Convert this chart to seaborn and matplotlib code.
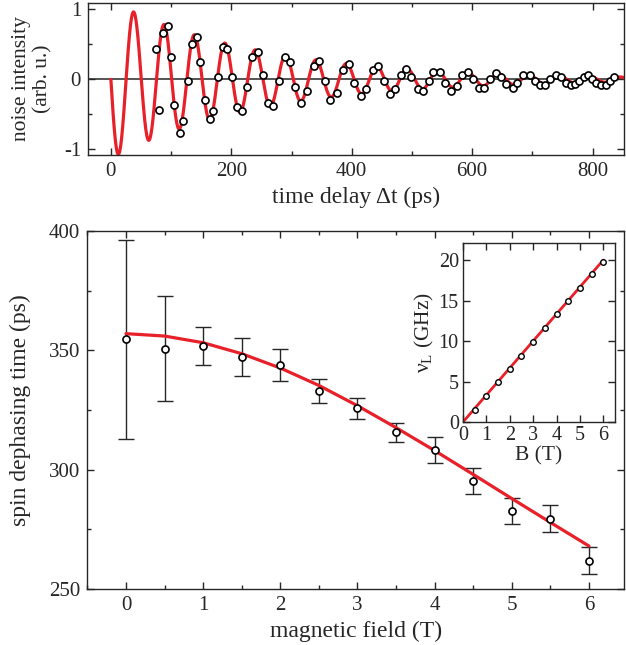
import numpy as np
import pandas as pd
import matplotlib
matplotlib.use("Agg")
import matplotlib.pyplot as plt
from matplotlib.ticker import MultipleLocator
import seaborn as sns

# --- DATA ---
# top panel: measured noise correlation
delay_ps = [74.9, 80.4, 86.0, 94.8, 100.4, 105.4, 114.3, 119.8, 128.7, 134.3,
            142.6, 148.1, 156.4, 164.7, 170.2, 178.5, 186.9, 193.5, 201.8, 210.2,
            218.0, 226.3, 235.1, 244.1, 252.4, 260.1, 269.0, 280.0, 288.4, 297.8,
            306.2, 316.1, 325.6, 336.6, 345.0, 356.1, 364.4, 375.5, 384.9, 394.9,
            404.3, 415.4, 423.8, 434.8, 443.1, 454.2, 463.1, 471.4, 482.5, 490.8,
            499.2, 510.3, 518.6, 528.0, 535.3, 546.3, 555.7, 564.1, 575.2, 582.5,
            592.9, 601.2, 611.2, 619.5, 629.0, 640.1, 648.4, 656.7, 667.8, 675.1,
            684.4, 695.5, 703.8, 712.1, 720.5, 729.3, 738.8, 747.1, 755.4, 764.9,
            770.4, 777.6, 785.9, 792.5, 799.8, 806.5, 814.8, 822.0, 828.6, 835.8]
noise = [0.44, -0.43, 0.66, 0.76, 0.32, -0.36, -0.77, -0.60, -0.02, 0.51,
         0.61, 0.25, -0.29, -0.57, -0.45, 0.03, 0.47, 0.44, 0.03, -0.40,
         -0.45, -0.11, 0.32, 0.39, 0.06, -0.33, -0.38, -0.02, 0.32, 0.25,
         -0.11, -0.33, -0.17, 0.19, 0.27, -0.02, -0.29, -0.19, 0.13, 0.22,
         -0.05, -0.24, -0.14, 0.13, 0.19, -0.02, -0.21, -0.14, 0.06, 0.15,
         0.03, -0.14, -0.17, -0.02, 0.10, 0.10, -0.05, -0.17, -0.09, 0.06,
         0.10, 0.01, -0.12, -0.12, 0.01, 0.09, 0.04, -0.07, -0.12, -0.05,
         0.06, 0.06, -0.02, -0.08, -0.08, 0.00, 0.06, 0.03, -0.05, -0.08,
         -0.06, -0.02, 0.04, 0.06, 0.01, -0.05, -0.08, -0.08, -0.02, 0.04]
# fit of the top panel: damped oscillation parameters
fit_amp = 1.126
fit_period_ps = 50.5
fit_decay_ps = 245.0

# bottom panel: spin dephasing time vs magnetic field
field_T = [0, 0.5, 1, 1.5, 2, 2.5, 3, 3.5, 4, 4.5, 5, 5.5, 6]
t2_ps = [354.6, 350.6, 351.8, 347.2, 343.9, 333.1, 325.7, 315.6, 308.2, 295.4, 282.7, 279.4, 261.9]
t2_err = [41.6, 22.0, 8.0, 7.8, 6.7, 5.1, 4.3, 3.9, 5.3, 5.4, 5.5, 5.7, 5.7]
fit_field_T = [0, 0.5, 1, 1.5, 2, 2.5, 3, 3.5, 4, 4.5, 5, 5.5, 6]
fit_t2_ps = [357.0, 356.0, 353.2, 348.6, 342.6, 335.3, 326.8, 317.6, 308.0, 298.0, 287.9, 277.9, 268.0]

# inset: Larmor frequency
inset_B = [0.5, 1, 1.5, 2, 2.5, 3, 3.5, 4, 4.5, 5, 5.5, 6]
inset_nu = [1.45, 3.2, 4.9, 6.6, 8.2, 9.9, 11.6, 13.3, 15.0, 16.6, 18.3, 19.8]
inset_line_B = [0, 6]
inset_line_nu = [0, 20]

RED = "#e8202a"
INK = "#262626"

sns.set_theme(style="ticks")
plt.rcParams['font.family'] = ['Liberation Serif', 'DejaVu Serif']
plt.rcParams['mathtext.fontset'] = 'custom'
plt.rcParams['mathtext.rm'] = 'Liberation Serif'
plt.rcParams['axes.unicode_minus'] = False
plt.rcParams['text.color'] = INK
plt.rcParams['axes.labelcolor'] = INK
plt.rcParams['xtick.color'] = INK
plt.rcParams['ytick.color'] = INK
plt.rcParams['axes.edgecolor'] = INK


def style_axes(ax, size=15, pad=5):
    for s in ax.spines.values():
        s.set_linewidth(1.0)
        s.set_visible(True)
    ax.tick_params(which='both', direction='in', top=True, right=True,
                   width=1.0, labelsize=size, pad=pad)
    ax.tick_params(which='major', length=5)
    ax.tick_params(which='minor', length=3)


fig = plt.figure(figsize=(6.26, 6.45), dpi=100)
ax1 = fig.add_axes([0.1406, 0.7597, 0.857, 0.2357])
ax2 = fig.add_axes([0.139, 0.0868, 0.8586, 0.555])
ax3 = fig.add_axes([0.7396, 0.3457, 0.2428, 0.2775])

# --- top panel ---
t = np.linspace(0, 860, 3000)
fit_df = pd.DataFrame({'t': t,
                       'y': -fit_amp * np.exp(-t / fit_decay_ps) * np.sin(2 * np.pi * t / fit_period_ps)})
ax1.axhline(0, color=INK, lw=1.1, zorder=1)
sns.lineplot(data=fit_df, x='t', y='y', ax=ax1, color=RED, lw=2.3, zorder=2)
sns.scatterplot(x=delay_ps, y=noise, ax=ax1, marker='o', s=26, facecolor='white',
                edgecolor='black', linewidth=1.2, zorder=3)
ax1.set_xlim(-38, 853)
ax1.set_ylim(-1.08, 1.093)
ax1.xaxis.set_major_locator(MultipleLocator(200))
ax1.xaxis.set_minor_locator(MultipleLocator(100))
ax1.yaxis.set_major_locator(MultipleLocator(1))
ax1.yaxis.set_minor_locator(MultipleLocator(0.5))
ax1.set_xlabel("time delay Δt (ps)", fontsize=17, labelpad=4)
ax1.set_ylabel("noise intensity\n(arb. u.)", fontsize=15.5, labelpad=8, linespacing=1.2)
style_axes(ax1)

# --- bottom panel ---
ax2.errorbar(field_T, t2_ps, yerr=t2_err, fmt='none', ecolor=INK, elinewidth=1.0,
             capsize=6, capthick=1.0, zorder=1)
sns.lineplot(x=fit_field_T, y=fit_t2_ps, ax=ax2, color=RED, lw=2.3, zorder=2)
sns.scatterplot(x=field_T, y=t2_ps, ax=ax2, marker='o', s=26, facecolor='white',
                edgecolor='black', linewidth=1.2, zorder=3)
ax2.set_xlim(-0.505, 6.46)
ax2.set_ylim(250, 400)
ax2.xaxis.set_major_locator(MultipleLocator(1))
ax2.xaxis.set_minor_locator(MultipleLocator(0.5))
ax2.yaxis.set_major_locator(MultipleLocator(50))
ax2.yaxis.set_minor_locator(MultipleLocator(25))
ax2.set_xlabel("magnetic field (T)", fontsize=17, labelpad=4)
ax2.set_ylabel("spin dephasing time (ps)", fontsize=17, labelpad=13)
style_axes(ax2)

# --- inset ---
sns.lineplot(x=inset_line_B, y=inset_line_nu, ax=ax3, color=RED, lw=2.0, zorder=2)
sns.scatterplot(x=inset_B, y=inset_nu, ax=ax3, marker='o', s=16, facecolor='white',
                edgecolor='black', linewidth=1.0, zorder=3)
ax3.set_xlim(0, 6.5)
ax3.set_ylim(0, 22.1)
ax3.xaxis.set_major_locator(MultipleLocator(1))
ax3.yaxis.set_major_locator(MultipleLocator(5))
ax3.set_xlabel("B (T)", fontsize=15.5, labelpad=1)
ax3.set_ylabel("ν$_\\mathregular{L}$ (GHz)", fontsize=15.5, labelpad=2)
style_axes(ax3, size=14.5, pad=3)

fig.savefig("out.png", dpi=100)
